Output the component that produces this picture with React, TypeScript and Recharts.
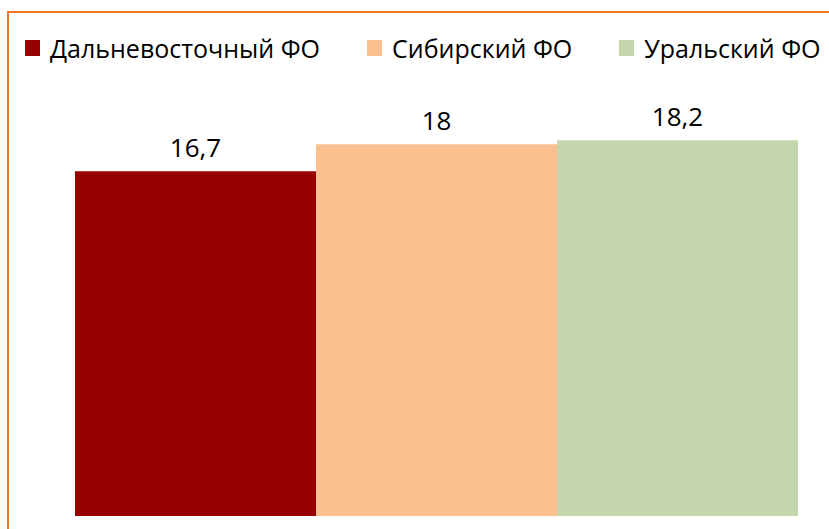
import React from 'react';
import { BarChart, Bar, XAxis, YAxis, Legend, LabelList } from 'recharts';

const categories = ['2013'];
const seriesNames = ['Дальневосточный ФО', 'Сибирский ФО', 'Уральский ФО'];
const seriesKeys = ['far', 'sib', 'ural'];
const farEast = [16.7];
const siberia = [18];
const ural = [18.2];
const colors = ['#990000', '#FAC090', '#C5D6AC'];

const data = categories.map((c, i) => ({
  name: c,
  far: farEast[i],
  sib: siberia[i],
  ural: ural[i],
}));

const FONT = '"Open Sans", sans-serif';

const fmt = (v: any) => String(v).replace('.', ',');

const LegendContent = () => (
  <div style={{ display: 'flex', flexDirection: 'row', alignItems: 'center', gap: 47, fontFamily: FONT, fontSize: 25, lineHeight: '34px', height: 34, color: '#000', whiteSpace: 'nowrap' }}>
    {seriesNames.map((n, i) => (
      <div key={n} style={{ display: 'flex', alignItems: 'center' }}>
        <span style={{ display: 'inline-block', width: 15, height: 16, background: colors[i], marginRight: 10 }} />
        <span>{n}</span>
      </div>
    ))}
  </div>
);

export default function App() {
  return (
    <div style={{ position: 'fixed', left: 0, top: 0, width: 829, height: 529, overflow: 'hidden', background: '#fff' }}>
      <div style={{ position: 'absolute', left: 7, top: 11, width: 1000, height: 1000, border: '2px solid #EE7722', boxSizing: 'border-box' }} />
      <div style={{ position: 'absolute', left: 0, top: 0 }}>
        <BarChart width={829} height={529} data={data} margin={{ top: 69, right: 32, bottom: 13, left: 75 }} barCategoryGap={0} barGap={0}>
          <XAxis dataKey="name" hide />
          <YAxis hide domain={[0, 20]} />
          <Legend
            verticalAlign="top"
            align="left"
            content={<LegendContent />}
            wrapperStyle={{ position: 'absolute', left: 25, top: 31, width: 'auto' }}
          />
          {seriesKeys.map((k, i) => (
            <Bar key={k} dataKey={k} name={seriesNames[i]} fill={colors[i]} isAnimationActive={false}>
              <LabelList dataKey={k} position="top" offset={14} formatter={fmt} style={{ fontFamily: FONT, fontSize: 26, fill: '#000' }} />
            </Bar>
          ))}
        </BarChart>
      </div>
    </div>
  );
}
